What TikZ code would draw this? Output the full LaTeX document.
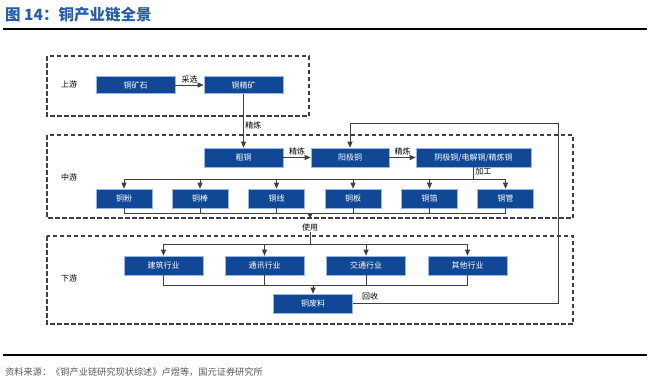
\documentclass[tikz,border=0pt]{standalone}
\usepackage{fontspec}
\setmainfont{Noto Sans CJK SC}
\usetikzlibrary{arrows.meta,positioning}
\definecolor{titleblue}{RGB}{36,94,168}
\definecolor{boxblue}{RGB}{16,72,150}
\definecolor{boxedge}{RGB}{150,182,228}
\definecolor{linegray}{RGB}{64,64,64}
\definecolor{srcgray}{RGB}{90,90,90}
\tikzset{
  box/.style={rectangle,draw=boxedge,line width=0.6pt,fill=boxblue,text=white,
              font=\fontsize{8}{9}\selectfont,inner sep=0pt,minimum height=19pt,minimum width=79pt},
  sbox/.style={box,minimum width=56pt},
  ln/.style={draw=linegray,line width=0.9pt},
  fl/.style={ln,-{Triangle[length=6pt,width=5pt]}},
  lbl/.style={font=\fontsize{8}{9}\selectfont,text=black,inner sep=1.5pt},
  grp/.style={draw=linegray,line width=1.1pt,dash pattern=on 4.5pt off 2.5pt},
  rule/.style={draw=black,line width=1.6pt},
}
\begin{document}
\begin{tikzpicture}[x=1pt,y=-1pt]
  \useasboundingbox[fill=white] (0,0) rectangle (650,389);
  % heading and rules
  \node[anchor=west,inner sep=0pt,text=titleblue,font=\fontsize{15.5}{17}\selectfont\bfseries] (title) at (5,15) {图 14：铜产业链全景};
  \draw[rule] (3,29) -- (647,29);
  \draw[rule,line width=1.3pt] (3,355) -- (647,355);
  \node[anchor=west,inner sep=0pt,text=srcgray,font=\fontsize{9.2}{10}\selectfont] (src) at (5,372) {资料来源：《铜产业链研究现状综述》卢煜等，国元证券研究所};
  % stage frames
  \draw[grp] (47,56) rectangle (309,116);
  \draw[grp] (47,135) rectangle (573,218);
  \draw[grp] (47,236) rectangle (573,324);
  \node[lbl] (up) at (69,84) {上游};
  \node[lbl] (mid) at (69,177) {中游};
  \node[lbl] (down) at (69,278) {下游};
  % upstream
  \node[box,minimum height=17pt] (ore) at (135.5,85) {铜矿石};
  \node[box,minimum height=17pt] (conc) at (243.5,85) {铜精矿};
  % midstream
  \node[box] (blister) at (243.5,157.5) {粗铜};
  \node[box,minimum width=78pt] (anode) at (350,157.5) {阳极铜};
  \node[box,minimum width=115pt] (cathode) at (473.5,157.5) {阴极铜/电解铜/精炼铜};
  \node[sbox] (powder) at (124,198.5) {铜粉};
  \node[sbox] (rod) at (200,198.5) {铜棒};
  \node[sbox] (wire) at (276.5,198.5) {铜线};
  \node[sbox] (plate) at (353,198.5) {铜板};
  \node[sbox] (foil) at (429.5,198.5) {铜箔};
  \node[sbox] (tube) at (505.5,198.5) {铜管};
  % downstream
  \node[box] (build) at (163.5,265.5) {建筑行业};
  \node[box] (telecom) at (264.5,265.5) {通讯行业};
  \node[box] (transp) at (366,265.5) {交通行业};
  \node[box] (other) at (467.5,265.5) {其他行业};
  \node[box] (scrap) at (313,303.5) {铜废料};
  \node[lbl] (usage) at (310,227) {使用};
  \coordinate (bus1) at (0,179);
  \coordinate (bus2) at (0,213);
  \coordinate (bus3) at (0,244);
  \coordinate (bus4) at (0,285);
  \coordinate (usetop) at (310,213);
  \coordinate (usetip) at (310,219);
  \coordinate (ret) at (558,123);
  % flows
  \draw[fl] (ore) -- node[lbl,above]{采选} (conc);
  \draw[fl] (conc) -- node[lbl,right,pos=0.58]{精炼} (blister);
  \draw[fl] (blister) -- node[lbl,above]{精炼} (anode);
  \draw[fl] (anode) -- node[lbl,above]{精炼} (cathode);
  \draw[ln] (cathode.south) -- node[lbl,right,pos=0.4]{加工} (cathode.south |- bus1);
  \draw[ln] (powder.north |- bus1) -- (tube.north |- bus1);
  \draw[fl] (powder.north |- bus1) -- (powder.north);
  \draw[fl] (rod.north |- bus1) -- (rod.north);
  \draw[fl] (wire.north |- bus1) -- (wire.north);
  \draw[fl] (plate.north |- bus1) -- (plate.north);
  \draw[fl] (foil.north |- bus1) -- (foil.north);
  \draw[fl] (tube.north |- bus1) -- (tube.north);
  \draw[ln] (powder.south) -- (powder.south |- bus2) -- (tube.south |- bus2) -- (tube.south);
  \draw[ln] (rod.south) -- (rod.south |- bus2);
  \draw[ln] (wire.south) -- (wire.south |- bus2);
  \draw[ln] (plate.south) -- (plate.south |- bus2);
  \draw[ln] (foil.south) -- (foil.south |- bus2);
  \draw[fl] (usetop) -- (usetip);
  \draw[ln] (usage.south) -- (usage.south |- bus3);
  \draw[ln] (build.north |- bus3) -- (other.north |- bus3);
  \draw[fl] (build.north |- bus3) -- (build.north);
  \draw[fl] (telecom.north |- bus3) -- (telecom.north);
  \draw[fl] (transp.north |- bus3) -- (transp.north);
  \draw[fl] (other.north |- bus3) -- (other.north);
  \draw[ln] (build.south) -- (build.south |- bus4) -- (other.south |- bus4) -- (other.south);
  \draw[ln] (telecom.south) -- (telecom.south |- bus4);
  \draw[ln] (transp.south) -- (transp.south |- bus4);
  \draw[fl] (scrap.north |- bus4) -- (scrap.north);
  \draw[fl] (scrap.east) -| (ret) -| (anode.north);
  \node[lbl] (recycle) at (370,296) {回收};
\end{tikzpicture}
\end{document}
